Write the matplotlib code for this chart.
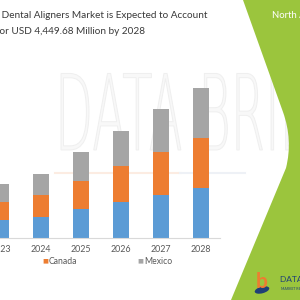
import matplotlib.pyplot as plt
from matplotlib.patches import PathPatch, Ellipse
from matplotlib.path import Path
from matplotlib.textpath import TextPath
from matplotlib.font_manager import FontProperties
from matplotlib.transforms import Affine2D

plt.rcParams['font.family'] = ['Lato', 'DejaVu Sans']

years = ['2023', '2024', '2025', '2026', '2027', '2028']
series = ['US', 'Canada', 'Mexico']
us = [525, 623, 842, 1068, 1266, 1483]
canada = [543, 644, 848, 1050, 1275, 1483]
mexico = [516, 632, 842, 1047, 1266, 1484]
colors = ['#5B9BD5', '#ED7D31', '#A5A5A5']
title_lines = ['North America Dental Aligners Market is Expected to Account',
               'for USD 4,449.68 Million by 2028']

fig = plt.figure(figsize=(3, 3), dpi=100)
fig.patch.set_facecolor('white')

# faint watermark behind the chart
wm = TextPath((0, 0), 'DATA BRIDGE', size=1, prop=FontProperties(family='DejaVu Sans', weight='light'))
tr = Affine2D().scale(0.165, 0.35).translate(55 / 300, 1 - 150 / 300) + fig.transFigure
fig.patches.append(PathPatch(wm, transform=tr, facecolor='#f8f8f8', edgecolor='#efefef', lw=0.7, zorder=-2))
fig.add_artist(plt.Line2D([55 / 300, 180 / 300], [1 - 173 / 300] * 2, color='#fcece2', lw=1.5, zorder=-2))
fig.add_artist(plt.Line2D([180 / 300, 245 / 300], [1 - 173 / 300] * 2, color='#eef1f6', lw=1.5, zorder=-2))

# green panel on the right
px = [(243, 0), (283, 112), (293, 140), (286, 168), (231, 300), (300, 300), (300, 0), (243, 0)]
codes = [Path.MOVETO, Path.LINETO, Path.CURVE3, Path.CURVE3, Path.LINETO, Path.LINETO, Path.LINETO, Path.CLOSEPOLY]
verts = [(x / 300, 1 - y / 300) for x, y in px]
fig.patches.append(PathPatch(Path(verts, codes), transform=fig.transFigure,
                             facecolor='#9BC53D', edgecolor='none', zorder=1))
fig.text(272 / 300, 1 - 15 / 300, 'North America', color='white', fontsize=6.8, va='center', ha='left')

# logo
fig.text(262 / 300, 1 - 282 / 300, 'b', color='#ED7D31', fontsize=15, fontweight='bold',
         ha='center', va='center', zorder=3)
fig.patches.append(Ellipse((262 / 300, 1 - 290 / 300), 0.05, 0.022, angle=15,
                           transform=fig.transFigure, facecolor='#1F3F77', edgecolor='none', zorder=3))
fig.text(280 / 300, 1 - 280 / 300, 'DATA BRIDGE', color='#1F3F77', fontsize=6, va='center', ha='left', zorder=3)
fig.text(281 / 300, 1 - 289 / 300, 'MARKET RESEARCH', color='#1F3F77', fontsize=2.5, va='center', ha='left', zorder=3)

# title
for i, line in enumerate(title_lines):
    fig.text(71 / 300, 1 - (16 + 15 * i) / 300, line, color='#3a3a3a', fontsize=7.2,
             ha='center', va='center')

ax = fig.add_axes([0, 0.2077, 0.733, 0.55])
ax.patch.set_visible(False)
x = range(len(years))
bottom = [0] * len(years)
for vals, c in zip([us, canada, mexico], colors):
    ax.bar(x, vals, width=0.4, bottom=bottom, color=c, zorder=2)
    bottom = [b + v for b, v in zip(bottom, vals)]

ax.set_xlim(-0.025, 5.48)
ax.set_ylim(0, 4894)
ax.set_xticks(list(x), years)
ax.tick_params(axis='x', length=0, pad=5, labelsize=6.4, labelcolor='#595959')
ax.set_yticks([])
for s in ['top', 'right', 'left']:
    ax.spines[s].set_visible(False)
ax.spines['bottom'].set_color('#d9d9d9')
ax.spines['bottom'].set_linewidth(0.8)

# legend (Excel style, fixed column width)
for i, (name, c) in enumerate(zip(series, colors)):
    lx = -53 + 95 * i
    fig.text(lx / 300, 1 - 261 / 300, '\u25a0', color=c, fontsize=4.5, va='center', ha='left',
             family='DejaVu Sans')
    fig.text((lx + 7) / 300, 1 - 261 / 300, name, color='#595959', fontsize=6.2, va='center', ha='left')

fig.savefig('out.png', dpi=100)
